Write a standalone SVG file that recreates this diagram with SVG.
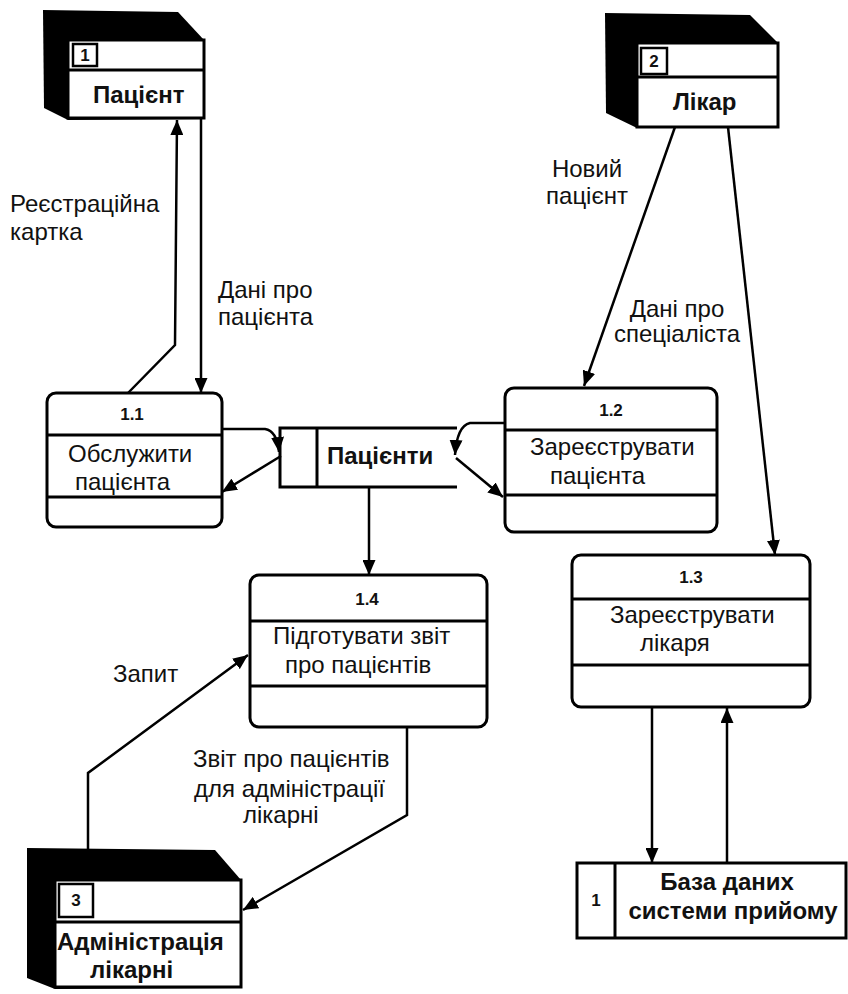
<svg xmlns="http://www.w3.org/2000/svg" width="848" height="994" viewBox="0 0 848 994">
<style>
text{font-family:"Liberation Sans",Arial,sans-serif;fill:#111}
.lbl{font-size:24px}
.b{font-size:24px;font-weight:bold}
.num{font-size:17px;font-weight:bold}
.blk{fill:#000}
.face{fill:#fff;stroke:#000;stroke-width:3}
.nbox{fill:#fff;stroke:#000;stroke-width:2.5}
.proc{fill:#fff;stroke:#000;stroke-width:3}
.div{stroke:#000;stroke-width:3}
.con{fill:none;stroke:#000;stroke-width:2.5}
</style>
<defs>
<marker id="ah" viewBox="0 0 15 13" refX="15" refY="6.5" markerWidth="15" markerHeight="13" markerUnits="userSpaceOnUse" orient="auto">
<path d="M0,0 L15,6.5 L0,13 Z" fill="#000"/>
</marker>
</defs>
<rect width="848" height="994" fill="#fff"/>

<g id="entity1">
<polygon class="blk" points="43,10 178,12 204,40 204,119 68,120 44,108"/>
<rect class="face" x="68" y="40" width="136" height="78"/>
<line class="div" x1="68" y1="70" x2="204" y2="70"/>
<rect class="nbox" x="73" y="44" width="24" height="22"/>
<text class="num" x="85" y="61" text-anchor="middle">1</text>
<text class="b" x="93" y="103">Пацієнт</text>
</g>

<g id="entity2">
<polygon class="blk" points="605,13 750,15 778,43 778,128 637,128 606,113"/>
<rect class="face" x="637" y="43" width="141" height="84"/>
<line class="div" x1="637" y1="77" x2="778" y2="77"/>
<rect class="nbox" x="641" y="48" width="26" height="26"/>
<text class="num" x="654" y="67" text-anchor="middle">2</text>
<text class="b" x="673" y="110">Лікар</text>
</g>

<g id="entity3">
<polygon class="blk" points="27,848 215,850 241,880 241,988 55,989 27,978"/>
<rect class="face" x="55" y="880" width="186" height="107"/>
<line class="div" x1="55" y1="922" x2="241" y2="922"/>
<rect class="nbox" x="59" y="884" width="34" height="33"/>
<text class="num" x="76" y="906" text-anchor="middle">3</text>
<text class="b" x="57" y="950">Адміністрація</text>
<text class="b" x="90" y="978">лікарні</text>
</g>

<g id="p11">
<rect class="proc" x="47" y="393" width="175" height="134" rx="9"/>
<line class="div" x1="47" y1="435" x2="222" y2="435"/>
<line class="div" x1="47" y1="497" x2="222" y2="497"/>
<text class="num" x="132" y="420" text-anchor="middle">1.1</text>
<text class="lbl" x="68" y="462">Обслужити</text>
<text class="lbl" x="75" y="490">пацієнта</text>
</g>

<g id="p12">
<rect class="proc" x="505" y="388" width="212" height="144" rx="9"/>
<line class="div" x1="505" y1="430" x2="717" y2="430"/>
<line class="div" x1="505" y1="495" x2="717" y2="495"/>
<text class="num" x="611" y="416" text-anchor="middle">1.2</text>
<text class="lbl" x="530" y="455">Зареєструвати</text>
<text class="lbl" x="550" y="484">пацієнта</text>
</g>

<g id="p13">
<rect class="proc" x="572" y="555" width="238" height="152" rx="9"/>
<line class="div" x1="572" y1="599" x2="810" y2="599"/>
<line class="div" x1="572" y1="665" x2="810" y2="665"/>
<text class="num" x="691" y="583" text-anchor="middle">1.3</text>
<text class="lbl" x="610" y="623">Зареєструвати</text>
<text class="lbl" x="640" y="651">лікаря</text>
</g>

<g id="p14">
<rect class="proc" x="250" y="575" width="237" height="152" rx="9"/>
<line class="div" x1="250" y1="621" x2="487" y2="621"/>
<line class="div" x1="250" y1="686" x2="487" y2="686"/>
<text class="num" x="367" y="605" text-anchor="middle">1.4</text>
<text class="lbl" x="273" y="644">Підготувати звіт</text>
<text class="lbl" x="285" y="673">про пацієнтів</text>
</g>

<g id="dsPatients">
<rect x="280" y="428" width="177" height="59" fill="#fff"/>
<path d="M457,428 H280 V487 H457" fill="none" stroke="#000" stroke-width="3"/>
<line class="div" x1="317" y1="428" x2="317" y2="487"/>
<text class="b" x="327" y="464">Пацієнти</text>
</g>

<g id="dsDB">
<rect x="577" y="863" width="269" height="75" fill="#fff" stroke="#000" stroke-width="3"/>
<line class="div" x1="615" y1="863" x2="615" y2="938"/>
<text class="num" x="596" y="906" text-anchor="middle">1</text>
<text class="b" x="727" y="890" text-anchor="middle">База даних</text>
<text class="b" x="733" y="919" text-anchor="middle">системи прийому</text>
</g>

<g id="connectors">
<polyline class="con" points="128,393 175,345 177,120" marker-end="url(#ah)"/>
<line class="con" x1="201" y1="118" x2="201" y2="393" marker-end="url(#ah)"/>
<path class="con" d="M222,429 H265 Q277,431 279,452" marker-end="url(#ah)"/>
<line class="con" x1="281" y1="456" x2="222" y2="492" marker-end="url(#ah)"/>
<path class="con" d="M505,423 H470 Q457,426 455,455" marker-end="url(#ah)"/>
<line class="con" x1="456" y1="458" x2="503" y2="497" marker-end="url(#ah)"/>
<line class="con" x1="675" y1="127" x2="584" y2="386" marker-end="url(#ah)"/>
<line class="con" x1="728" y1="127" x2="775" y2="555" marker-end="url(#ah)"/>
<line class="con" x1="369" y1="487" x2="369" y2="575" marker-end="url(#ah)"/>
<polyline class="con" points="88,850 88,773 248,655" marker-end="url(#ah)"/>
<polyline class="con" points="407,727 407,815 243,910" marker-end="url(#ah)"/>
<line class="con" x1="652" y1="707" x2="652" y2="863" marker-end="url(#ah)"/>
<line class="con" x1="727" y1="863" x2="727" y2="708" marker-end="url(#ah)"/>
</g>

<g id="labels">
<text class="lbl" x="10" y="212">Реєстраційна</text>
<text class="lbl" x="10" y="240">картка</text>
<text class="lbl" x="218" y="298">Дані про</text>
<text class="lbl" x="218" y="325">пацієнта</text>
<text class="lbl" x="587" y="177" text-anchor="middle">Новий</text>
<text class="lbl" x="587" y="204" text-anchor="middle">пацієнт</text>
<text class="lbl" x="677" y="317" text-anchor="middle">Дані про</text>
<text class="lbl" x="677" y="342" text-anchor="middle">спеціаліста</text>
<text class="lbl" x="113" y="682">Запит</text>
<text class="lbl" x="193" y="767">Звіт про пацієнтів</text>
<text class="lbl" x="194" y="797">для адміністрації</text>
<text class="lbl" x="243" y="823">лікарні</text>
</g>
</svg>
